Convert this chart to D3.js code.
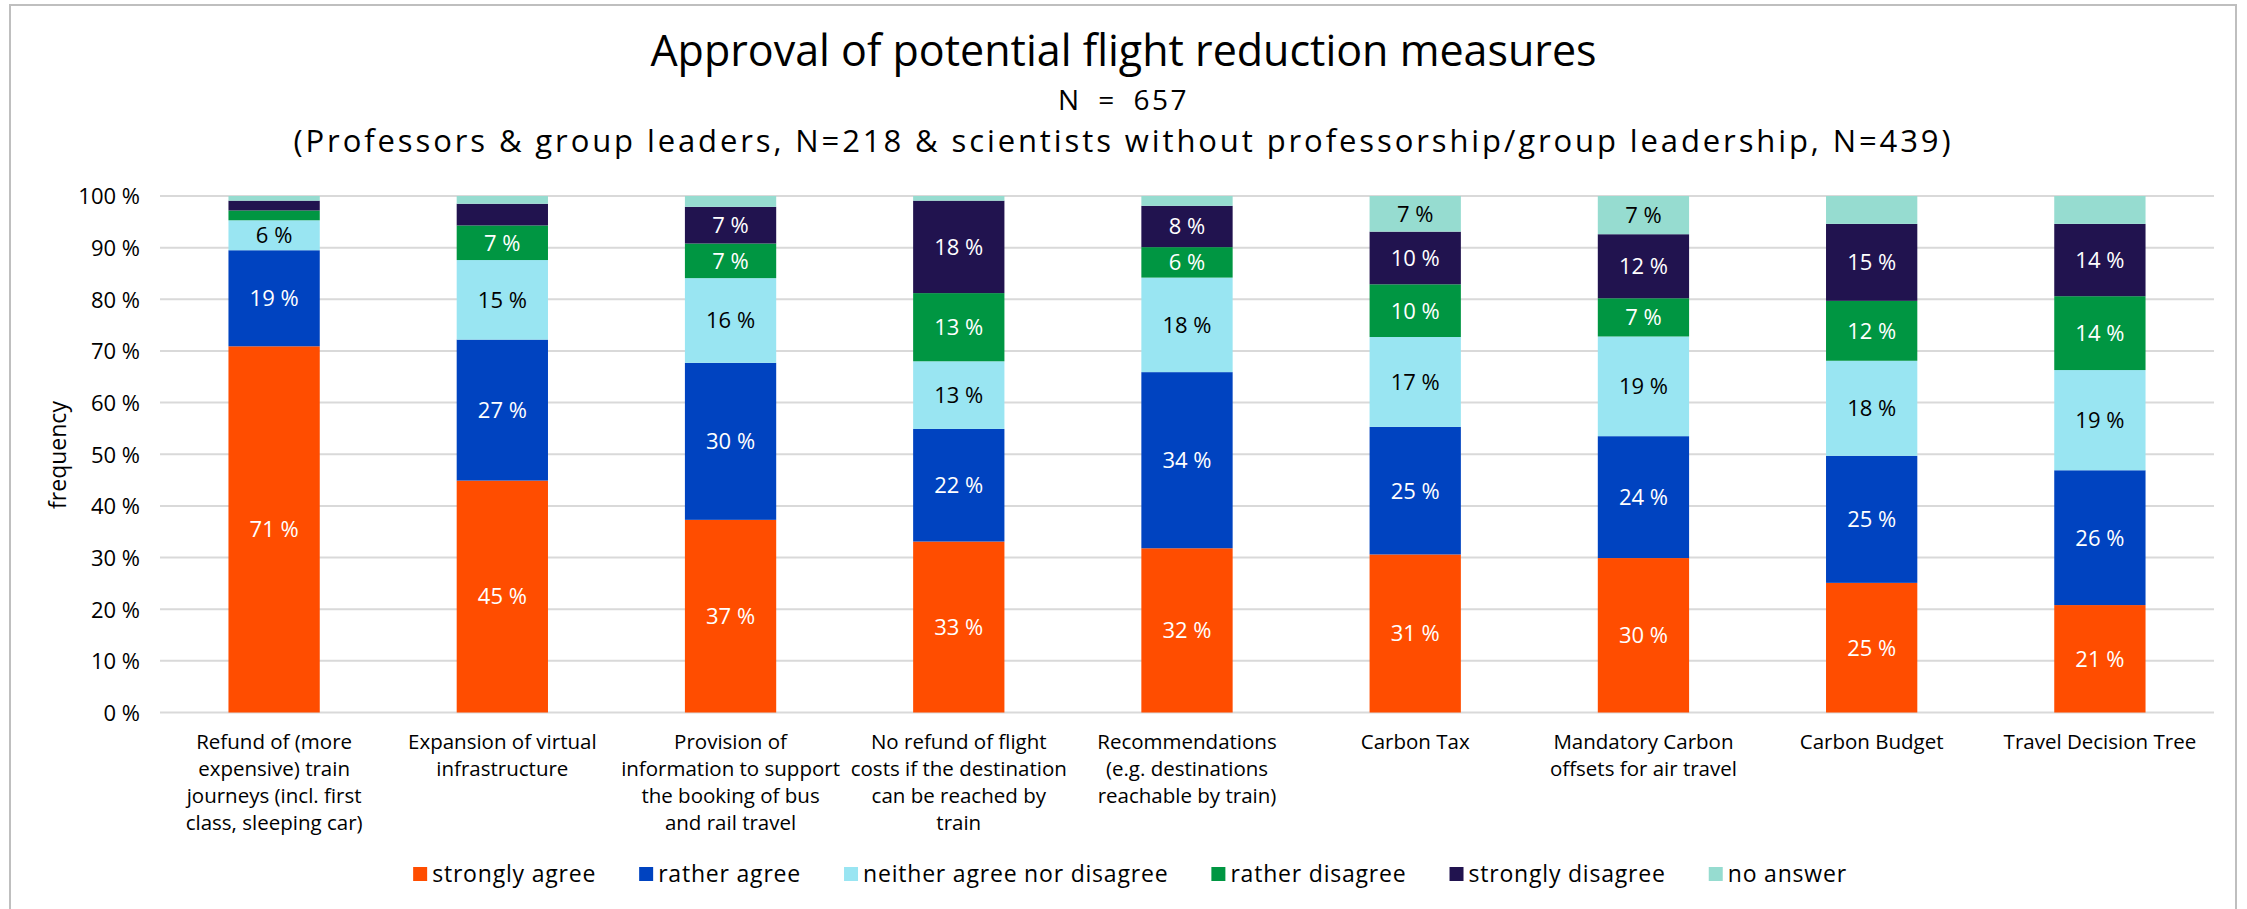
<!DOCTYPE html>
<html>
<head>
<meta charset="utf-8">
<script src="https://cdn.jsdelivr.net/npm/d3@7"></script>
<style>
  html, body { margin: 0; padding: 0; background: #fff; }
  svg text { font-family: "Open Sans", "Lato", sans-serif; fill: #000; }
</style>
</head>
<body>
<svg id="chart" width="2247" height="909"></svg>
<script>
// ---------- data ----------
const categories = [
  "Refund of (more\nexpensive) train\njourneys (incl. first\nclass, sleeping car)",
  "Expansion of virtual\ninfrastructure",
  "Provision of\ninformation to support\nthe booking of bus\nand rail travel",
  "No refund of flight\ncosts if the destination\ncan be reached by\ntrain",
  "Recommendations\n(e.g. destinations\nreachable by train)",
  "Carbon Tax",
  "Mandatory Carbon\noffsets for air travel",
  "Carbon Budget",
  "Travel Decision Tree"
];
const seriesNames = ["strongly agree", "rather agree", "neither agree nor disagree",
                     "rather disagree", "strongly disagree", "no answer"];
const stronglyAgree    = [70.9, 44.9, 37.3, 33.1, 31.8, 30.6, 29.9, 25.1, 20.8];
const ratherAgree      = [18.6, 27.3, 30.4, 21.8, 34.1, 24.7, 23.6, 24.6, 26.1];
const neitherNor       = [5.8, 15.4, 16.4, 13.1, 18.3, 17.4, 19.3, 18.4, 19.4];
const ratherDisagree   = [1.9, 6.7, 6.7, 13.2, 5.9, 10.2, 7.4, 11.6, 14.3];
const stronglyDisagree = [1.9, 4.2, 7.1, 17.9, 8.0, 10.2, 12.4, 14.9, 14.0];
const noAnswer         = [0.9, 1.5, 2.1, 0.9, 1.9, 6.9, 7.4, 5.4, 5.4];
const yTicks = [0, 10, 20, 30, 40, 50, 60, 70, 80, 90, 100];
const title = "Approval of potential flight reduction measures";
const subtitle1 = "N = 657";
const subtitle2 = "(Professors & group leaders, N=218 & scientists without professorship/group leadership, N=439)";
const yAxisTitle = "frequency";

// ---------- styles ----------
const colors = ["#FF4D00", "#0043C0", "#99E5F2", "#009642", "#21134F", "#96DCD0"];
const labelColors = ["#fff", "#fff", "#000", "#fff", "#fff", "#000"];

const seriesValues = [stronglyAgree, ratherAgree, neitherNor, ratherDisagree, stronglyDisagree, noAnswer];
const rows = categories.map((c, i) => {
  const r = { category: c };
  seriesNames.forEach((s, j) => r[s] = seriesValues[j][i]);
  return r;
});

const svg = d3.select("#chart");
const W = 2247, H = 909;

// chart area border
svg.append("rect").attr("x", 10).attr("y", 5).attr("width", 2226).attr("height", 930)
  .attr("fill", "#fff").attr("stroke", "#BFBFBF").attr("stroke-width", 2);

const x = d3.scaleBand().domain(categories).range([160, 2214]).paddingInner(0.6).paddingOuter(0.3);
const y = d3.scaleLinear().domain([0, 100]).range([712.5, 196]);

// titles
svg.append("text").attr("x", W / 2).attr("y", 66).attr("text-anchor", "middle")
  .style("font-size", "43px").text(title);
svg.append("text").attr("x", W / 2).attr("y", 110).attr("text-anchor", "middle")
  .style("font-size", "28px").style("letter-spacing", "2.5px").style("word-spacing", "7px")
  .text(subtitle1);
svg.append("text").attr("x", W / 2).attr("y", 152).attr("text-anchor", "middle")
  .style("font-size", "31px").style("letter-spacing", "2.9px").text(subtitle2);

// gridlines
const grid = svg.append("g");
grid.selectAll("line").data(yTicks).join("line")
  .attr("x1", 160).attr("x2", 2214)
  .attr("y1", d => y(d)).attr("y2", d => y(d))
  .attr("stroke", "#D9D9D9").attr("stroke-width", 2);

// y axis labels
const yAxis = d3.axisLeft(y).tickValues(yTicks).tickFormat(d => d + " %").tickSize(0).tickPadding(0);
const yg = svg.append("g").attr("transform", "translate(140,0)").call(yAxis);
yg.select(".domain").remove();
yg.selectAll("text").attr("font-family", null).attr("font-size", null)
  .style("font-size", "22px").attr("dy", "0.36em");

svg.append("text")
  .attr("transform", "translate(66,455) rotate(-90)")
  .attr("text-anchor", "middle").style("font-size", "23px").text(yAxisTitle);

// stacked bars
const stack = d3.stack().keys(seriesNames);
const stacked = stack(rows);

const layers = svg.append("g").selectAll("g").data(stacked).join("g")
  .attr("fill", (d, i) => colors[i]);
layers.selectAll("rect").data(d => d).join("rect")
  .attr("x", d => x(d.data.category))
  .attr("width", x.bandwidth())
  .attr("y", d => y(d[1]))
  .attr("height", d => y(d[0]) - y(d[1]));

// value labels
const labelG = svg.append("g");
stacked.forEach((layer, i) => {
  labelG.selectAll(null).data(layer.filter(d => (d[1] - d[0]) >= 5.5)).join("text")
    .attr("x", d => x(d.data.category) + x.bandwidth() / 2)
    .attr("y", d => y((d[0] + d[1]) / 2))
    .attr("dy", "0.36em")
    .attr("text-anchor", "middle")
    .style("font-size", "22px")
    .style("fill", labelColors[i])
    .text(d => Math.round(d[1] - d[0]) + " %");
});

// category labels
const catG = svg.append("g");
categories.forEach(c => {
  const lines = c.split("\n");
  const t = catG.append("text")
    .attr("text-anchor", "middle")
    .style("font-size", "20.5px");
  lines.forEach((ln, k) => {
    t.append("tspan").attr("x", x(c) + x.bandwidth() / 2).attr("y", 749 + k * 27).text(ln);
  });
});

// legend
const legend = svg.append("g");
const items = legend.selectAll("g").data(seriesNames).join("g");
items.append("rect").attr("width", 14).attr("height", 14).attr("y", -7)
  .attr("fill", (d, i) => colors[i]);
items.append("text").attr("x", 19).attr("dy", "0.35em")
  .style("font-size", "23px").style("letter-spacing", "0.8px").text(d => d);
let cursor = 0;
const offsets = [];
items.each(function (d, i) {
  offsets.push(cursor);
  const w = d3.select(this).select("text").node().getComputedTextLength();
  cursor += 19 + w + 43;
});
const totalW = cursor - 43;
const startX = 1130 - totalW / 2;
items.attr("transform", (d, i) => `translate(${startX + offsets[i]},874)`);
</script>
</body>
</html>
